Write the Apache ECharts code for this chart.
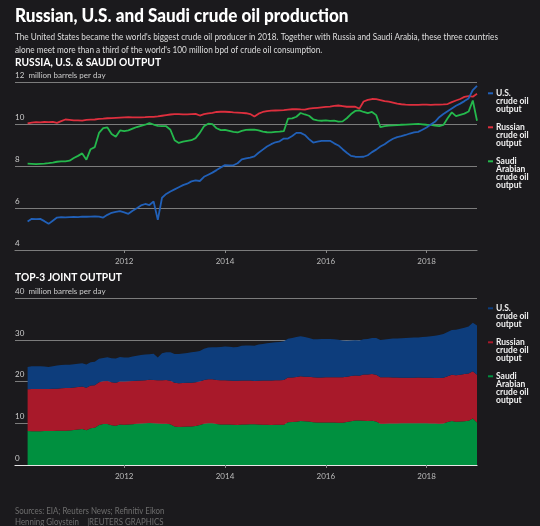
<!DOCTYPE html>
<html>
<head>
<meta charset="utf-8">
<script src="https://cdn.jsdelivr.net/npm/echarts@6/dist/echarts.min.js"></script>
<style>
  html, body { margin: 0; padding: 0; background: #1b1a1d; }
  #chart { width: 540px; height: 526px; }
</style>
</head>
<body>
<div id="chart"></div>
<script>
// monthly output, million barrels per day, Feb 2010 .. Jan 2019
// the axis itself starts a few months earlier, in Nov 2009
var axisStartYear = 2009, axisStartMonth = 11, leadingGap = 3, monthCount = 108;

var usOutput = [
  5.36, 5.49, 5.48, 5.49, 5.38, 5.25, 5.40, 5.55, 5.57, 5.56, 5.57, 5.58,
  5.57, 5.60, 5.59, 5.60, 5.61, 5.60, 5.55, 5.68, 5.78, 5.82, 5.86, 5.80,
  5.73, 5.88, 6.00, 6.13, 6.20, 6.15, 6.32, 5.44, 6.50, 6.68, 6.80, 6.90,
  7.00, 7.10, 7.17, 7.28, 7.33, 7.30, 7.50, 7.60, 7.70, 7.82, 7.95, 8.06,
  8.05, 8.05, 8.15, 8.33, 8.38, 8.42, 8.48, 8.65, 8.80, 8.95, 9.06, 9.15,
  9.20, 9.33, 9.33, 9.45, 9.60, 9.60, 9.50, 9.30, 9.14, 9.18, 9.22, 9.22,
  9.22, 9.10, 9.00, 8.82, 8.65, 8.50, 8.46, 8.45, 8.46, 8.53, 8.68, 8.80,
  8.95, 9.06, 9.20, 9.32, 9.40, 9.44, 9.50, 9.57, 9.62, 9.65, 9.75, 9.86,
  10.00, 10.13, 10.35, 10.50, 10.64, 10.77, 10.90, 11.00, 11.12, 11.25, 11.65, 11.85
];

var russiaOutput = [
  10.05, 10.09, 10.11, 10.10, 10.12, 10.11, 10.13, 10.08, 10.16, 10.24, 10.22, 10.20,
  10.20, 10.19, 10.22, 10.23, 10.24, 10.27, 10.28, 10.30, 10.31, 10.32, 10.33, 10.34,
  10.35, 10.34, 10.34, 10.34, 10.35, 10.37, 10.37, 10.39, 10.42, 10.45, 10.48, 10.50,
  10.50, 10.49, 10.49, 10.50, 10.51, 10.43, 10.50, 10.53, 10.56, 10.60, 10.61, 10.61,
  10.60, 10.58, 10.57, 10.56, 10.54, 10.50, 10.38, 10.52, 10.60, 10.64, 10.66, 10.67,
  10.68, 10.69, 10.71, 10.73, 10.74, 10.72, 10.71, 10.76, 10.78, 10.80, 10.82, 10.84,
  10.86, 10.89, 10.91, 10.88, 10.85, 10.85, 10.85, 10.76, 11.10, 11.18, 11.22, 11.21,
  11.17, 11.12, 11.09, 11.05, 11.00, 10.97, 10.95, 10.94, 10.94, 10.94, 10.95, 10.95,
  10.94, 10.95, 10.95, 10.96, 10.98, 11.07, 11.15, 11.22, 11.32, 11.36, 11.33, 11.47
];

var saudiOutput = [
  8.13, 8.12, 8.11, 8.12, 8.13, 8.15, 8.18, 8.22, 8.24, 8.24, 8.27, 8.40,
  8.50, 8.62, 8.32, 8.82, 8.92, 9.60, 9.83, 9.86, 9.55, 9.42, 9.72, 9.68,
  9.72, 9.80, 9.88, 9.94, 9.99, 10.07, 10.00, 9.94, 9.92, 9.92, 9.75, 9.25,
  9.12, 9.18, 9.22, 9.25, 9.35, 9.60, 9.92, 10.04, 10.02, 9.82, 9.73, 9.74,
  9.70, 9.65, 9.62, 9.70, 9.74, 9.75, 9.76, 9.72, 9.66, 9.63, 9.62, 9.65,
  9.66, 9.68, 10.28, 10.29, 10.37, 10.55, 10.48, 10.42, 10.25, 10.20, 10.18, 10.20,
  10.17, 10.19, 10.14, 10.15, 10.30, 10.50, 10.65, 10.68, 10.60, 10.54, 10.60, 10.45,
  9.87, 9.92, 9.95, 9.96, 9.97, 9.99, 10.00, 10.01, 10.02, 10.03, 10.01, 9.99,
  9.98, 9.95, 9.92, 9.98, 10.30, 10.58, 10.40, 10.46, 10.52, 10.62, 11.15, 10.18
];

var yearTicks = ['2012-01', '2014-01', '2016-01', '2018-01'];
var seriesNames = ['U.S.\ncrude oil\noutput', 'Russian\ncrude oil\noutput', 'Saudi\nArabian\ncrude oil\noutput'];
var lineColors = ['#2160b8', '#de2f3e', '#24b84c'];
var areaColors = ['#0d3d7c', '#a8192a', '#00903f'];

var months = [];
for (var i = 0; i < monthCount + leadingGap; i++) {
  var d = new Date(Date.UTC(axisStartYear, axisStartMonth - 1 + i, 1));
  var mm = d.getUTCMonth() + 1;
  months.push(d.getUTCFullYear() + '-' + (mm < 10 ? '0' + mm : mm));
}

function padded(vals) {
  var out = [];
  for (var i = 0; i < leadingGap; i++) out.push(null);
  return out.concat(vals);
}

var FONT = 'Lato';
var chart = echarts.init(document.getElementById('chart'));

function isYearTick(index, value) {
  return yearTicks.indexOf(value) >= 0;
}

function xAxisFor(idx, lineColor) {
  return {
    gridIndex: idx,
    type: 'category',
    data: months,
    boundaryGap: false,
    splitLine: { show: false },
    axisLine: { show: true, lineStyle: { color: lineColor, width: 1.2 } },
    axisTick: { show: true, interval: isYearTick, length: 3, lineStyle: { color: '#888' } },
    axisLabel: {
      interval: isYearTick,
      color: '#bbbbbb', fontSize: 8, fontFamily: FONT, margin: 7,
      formatter: function (v) { return v.slice(0, 4); }
    }
  };
}

function yAxisFor(idx, min, max, step) {
  return {
    gridIndex: idx,
    type: 'value',
    min: min, max: max, interval: step,
    axisLine: { show: false },
    axisTick: { show: false },
    splitLine: { show: true, lineStyle: { color: '#7c7c7c', width: 1 } },
    axisLabel: {
      inside: true, margin: 0, color: '#cccccc', fontSize: 8, fontFamily: FONT,
      verticalAlign: 'bottom', padding: [0, 0, 3, 0],
      formatter: function (v) { return v === max ? v + '  million barrels per day' : String(v); }
    }
  };
}

function legendGraphic(top, colors) {
  var items = [];
  var tops = [top, top + 34, top + 68];
  for (var i = 0; i < seriesNames.length; i++) {
    items.push({
      type: 'rect', left: 488, top: tops[i] - 1,
      shape: { width: 5, height: 2 }, style: { fill: colors[i] }
    });
    items.push({
      type: 'text', left: 496, top: tops[i] - 4.5,
      style: {
        text: seriesNames[i], fill: '#f2f2f2', fontSize: 8.5, fontWeight: 'bold',
        fontFamily: FONT, lineHeight: 8
      }
    });
  }
  return items;
}

var lineSeries = [usOutput, russiaOutput, saudiOutput].map(function (vals, i) {
  return {
    name: seriesNames[i], type: 'line', xAxisIndex: 0, yAxisIndex: 0,
    data: padded(vals), showSymbol: false, symbol: 'none',
    lineStyle: { color: lineColors[i], width: 1.8 }, z: 3 - i
  };
});

// stacked from the bottom: Saudi, Russia, U.S.
var areaSeries = [saudiOutput, russiaOutput, usOutput].map(function (vals, i) {
  var c = areaColors[2 - i];
  return {
    name: seriesNames[2 - i] + ' total', type: 'line', xAxisIndex: 1, yAxisIndex: 1,
    stack: 'joint', data: padded(vals), showSymbol: false, symbol: 'none',
    lineStyle: { width: 0 }, areaStyle: { color: c, opacity: 1 }, itemStyle: { color: c }
  };
});

var option = {
  backgroundColor: '#1b1a1d',
  animation: false,
  textStyle: { fontFamily: FONT },
  grid: [
    { left: 15, right: 63, top: 82.7, height: 167.3 },
    { left: 15, right: 63, top: 298.3, height: 166.7 }
  ],
  xAxis: [xAxisFor(0, '#7c7c7c'), xAxisFor(1, '#e6e6e6')],
  yAxis: [yAxisFor(0, 4, 12, 2), yAxisFor(1, 0, 40, 10)],
  series: lineSeries.concat(areaSeries),
  graphic: [
    { type: 'text', left: 15, top: 6, scaleX: 0.9, style: {
      text: 'Russian, U.S. and Saudi crude oil production', fill: '#ffffff',
      fontSize: 19, fontWeight: 900, fontFamily: FONT } },
    { type: 'text', left: 15, top: 30.5, scaleX: 0.912, style: {
      text: "The United States became the world's biggest crude oil producer in 2018. Together with Russia and Saudi Arabia, these three countries\nalone meet more than a third of the world's 100 million bpd of crude oil consumption.",
      fill: '#dddddd', fontSize: 9, lineHeight: 13, fontFamily: FONT } },
    { type: 'text', left: 15, top: 56.5, scaleX: 0.89, style: {
      text: 'RUSSIA, U.S. & SAUDI OUTPUT', fill: '#ffffff', fontSize: 11.5, fontWeight: 'bold', fontFamily: FONT } },
    { type: 'text', left: 15, top: 271.5, scaleX: 0.89, style: {
      text: 'TOP-3 JOINT OUTPUT', fill: '#ffffff', fontSize: 11.5, fontWeight: 'bold', fontFamily: FONT } },
    { type: 'text', left: 15, top: 506, scaleX: 0.93, style: {
      text: 'Sources: EIA; Reuters News; Refinitiv Eikon\nHenning Gloystein    |REUTERS GRAPHICS',
      fill: '#6e6e6e', fontSize: 8.5, lineHeight: 11, fontFamily: FONT } }
  ].concat(legendGraphic(93.3, lineColors)).concat(legendGraphic(308.3, areaColors))
};

chart.setOption(option);
</script>
</body>
</html>
